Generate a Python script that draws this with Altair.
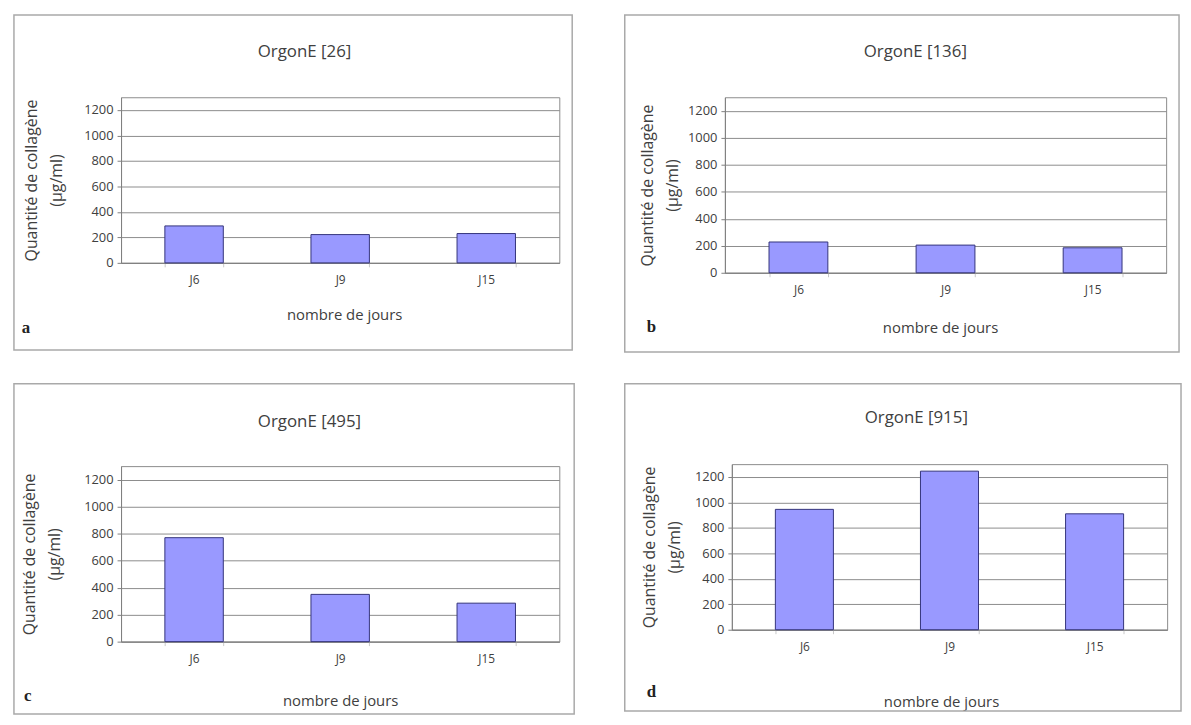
import altair as alt
import pandas as pd

# ---- data ----
days = ["J6", "J9", "J15"]
values_a = [290, 222, 230]
values_b = [228, 205, 185]
values_c = [770, 350, 285]
values_d = [945, 1245, 910]
panel_titles = ["OrgonE [26]", "OrgonE [136]", "OrgonE [495]", "OrgonE [915]"]
panel_letters = ["a", "b", "c", "d"]
y_ticks = [0, 200, 400, 600, 800, 1000, 1200]
y_title = ["Quantité de collagène", "(µg/ml)"]
x_title = "nombre de jours"

FONT = "Open Sans"
TEXT = "#404040"

# per-panel geometry (pixels, relative to each plot area)
layouts = [
    dict(w=442, h=167, frame=(-108, 455, -83, 255), title=(185, -46), xt=(225, 52), letter=(-96, 233), yt=-90),
    dict(w=445, h=177, frame=(-101, 458, -83, 257), title=(192, -46), xt=(217, 55), letter=(-74, 232), yt=-78),
    dict(w=442, h=177, frame=(-108, 457, -83, 250), title=(190, -44), xt=(221, 59), letter=(-94, 232), yt=-92),
    dict(w=439, h=167, frame=(-108, 453, -81, 249), title=(186, -46), xt=(211, 72), letter=(-81, 230), yt=-83),
]

one = pd.DataFrame({"k": [0]})


def panel(values, title, letter, L):
    df = pd.DataFrame({"day": days, "value": values})
    frame = alt.Chart(one).mark_rect(
        fill="white", fillOpacity=0, stroke="#a9a9a9", strokeWidth=1.5
    ).encode(
        x=alt.value(L["frame"][0]), x2=alt.value(L["frame"][1]),
        y=alt.value(L["frame"][2]), y2=alt.value(L["frame"][3]),
    )
    bars = alt.Chart(df).mark_bar(
        color="#9999ff", stroke="#34347a", strokeWidth=1
    ).encode(
        x=alt.X(
            "day:N", sort=days,
            scale=alt.Scale(paddingInner=0.6, paddingOuter=0.3),
            axis=alt.Axis(
                title=x_title, labelAngle=0, tickBand="extent", tickSize=4,
                tickColor="#c8c8c8", domainColor="#808080",
                labelBaseline="middle", labelPadding=13,
                labelFont=FONT, labelFontSize=12, labelColor=TEXT,
                titleFont=FONT, titleFontSize=15, titleFontWeight="normal",
                titleColor=TEXT, titleBaseline="middle",
                titleX=L["xt"][0], titleY=L["xt"][1],
            ),
        ),
        y=alt.Y(
            "value:Q",
            scale=alt.Scale(domain=[0, 1300], nice=False, zero=True),
            axis=alt.Axis(
                values=y_ticks, format="d", title=y_title, grid=True, gridColor="#8c8c8c",
                gridWidth=1, tickSize=4, tickColor="#808080", domainColor="#808080",
                labelPadding=4, labelFont=FONT, labelFontSize=13, labelColor=TEXT,
                titleFont=FONT, titleFontSize=16, titleFontWeight="normal",
                titleColor=TEXT, titleBaseline="middle", titleAngle=270,
                titleLineHeight=25, titleX=L["yt"], titleY=L["h"] / 2,
            ),
        ),
    )
    ttl = alt.Chart(one).mark_text(
        text=title, font=FONT, fontSize=17, color=TEXT, align="center", baseline="middle"
    ).encode(x=alt.value(L["title"][0]), y=alt.value(L["title"][1]))
    let = alt.Chart(one).mark_text(
        text=letter, font="Liberation Serif", fontWeight="bold", fontSize=17,
        color="#222222", align="center", baseline="middle"
    ).encode(x=alt.value(L["letter"][0]), y=alt.value(L["letter"][1]))
    return alt.layer(frame, bars, ttl, let).properties(width=L["w"], height=L["h"])


all_values = [values_a, values_b, values_c, values_d]
panels = [
    panel(all_values[i], panel_titles[i], panel_letters[i], layouts[i])
    for i in range(4)
]

chart = alt.concat(
    *panels, columns=2, spacing={"row": 28, "column": 47}, align="none", bounds="full"
).properties(
    padding={"left": 4, "top": 2, "right": 0, "bottom": 0},
    background="white",
).configure_view(stroke="#8c8c8c", strokeWidth=1)

chart.save("out.html", embed_options={"renderer": "svg", "actions": False})
